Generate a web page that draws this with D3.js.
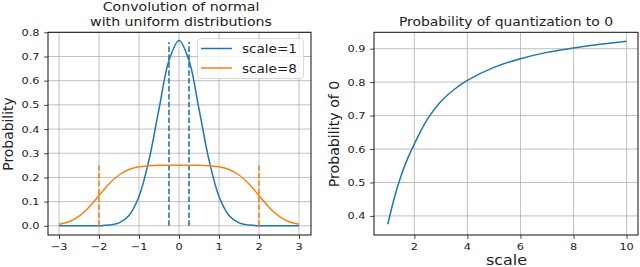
<!DOCTYPE html>
<html>
<head>
<meta charset="utf-8">
<script src="https://cdn.jsdelivr.net/npm/d3@7"></script>
<style>
  body { margin: 0; background: #fff; }
  svg { font-family: "DejaVu Sans", sans-serif; }
</style>
</head>
<body>
<svg id="chart" width="640" height="267"></svg>
<script>
// left panel: convolution curves
const convX = [-3, -2.75, -2.5, -2.25, -2, -1.75, -1.5, -1.25, -1, -0.75, -0.5, -0.25, 0,
               0.25, 0.5, 0.75, 1, 1.25, 1.5, 1.75, 2, 2.25, 2.5, 2.75, 3];
const scale1 = [0, 0, 0, 0.0001, 0.0005, 0.003, 0.012, 0.043, 0.121, 0.272, 0.483, 0.683, 0.766,
                0.683, 0.483, 0.272, 0.121, 0.043, 0.012, 0.003, 0.0005, 0.0001, 0, 0, 0];
const scale8 = [0.006, 0.017, 0.040, 0.077, 0.125, 0.173, 0.210, 0.233, 0.244, 0.248, 0.250, 0.250, 0.250,
                0.250, 0.250, 0.248, 0.244, 0.233, 0.210, 0.173, 0.125, 0.077, 0.040, 0.017, 0.006];
const bounds1 = [-0.25, 0.25], boundTop1 = 0.76;
const bounds8 = [-2, 2], boundTop8 = 0.25;
const leftXTicks = [-3, -2, -1, 0, 1, 2, 3];
const leftYTicks = [0, 0.1, 0.2, 0.3, 0.4, 0.5, 0.6, 0.7, 0.8];

// right panel: probability of quantization to 0
const scales = [1, 1.25, 1.5, 1.75, 2, 2.25, 2.5, 3, 3.5, 4, 5, 6, 7, 8, 9, 10];
const probZero = [0.375, 0.455, 0.52, 0.572, 0.615, 0.655, 0.69, 0.742, 0.778, 0.805, 0.844, 0.87, 0.889, 0.902, 0.913, 0.922];
const rightXTicks = [2, 4, 6, 8, 10];
const rightYTicks = [0.4, 0.5, 0.6, 0.7, 0.8, 0.9];

const blue = "#1f77b4", orange = "#ff7f0e";
const SX = 1.18; // text in the reference is a bit wider than tall
const svg = d3.select("#chart");
const fmtMinus = d => d3.format("d")(d).replace("-", "\u2212");

function txt(x, y, s, size, anchor, rot) {
  const tr = rot ? `translate(${x},${y}) rotate(${rot})` : `translate(${x},${y}) scale(${SX},1)`;
  return svg.append("text").attr("transform", tr)
    .attr("text-anchor", anchor || "middle").attr("font-size", size)
    .attr("fill", "#222").text(s);
}

function panel(box, xDom, yDom, xTicks, yTicks, xFmt, yFmt) {
  const x = d3.scaleLinear().domain(xDom).range([box.x0, box.x1]);
  const y = d3.scaleLinear().domain(yDom).range([box.y1, box.y0]);
  const g = svg.append("g");
  g.selectAll(".gx").data(xTicks).join("line")
    .attr("x1", d => x(d)).attr("x2", d => x(d))
    .attr("y1", box.y0).attr("y2", box.y1)
    .attr("stroke", "#b0b0b0").attr("stroke-width", 0.8);
  g.selectAll(".gy").data(yTicks).join("line")
    .attr("y1", d => y(d)).attr("y2", d => y(d))
    .attr("x1", box.x0).attr("x2", box.x1)
    .attr("stroke", "#b0b0b0").attr("stroke-width", 0.8);
  const ax = g.append("g").attr("transform", `translate(0,${box.y1})`)
    .call(d3.axisBottom(x).tickValues(xTicks).tickSize(4));
  const ay = g.append("g").attr("transform", `translate(${box.x0},0)`)
    .call(d3.axisLeft(y).tickValues(yTicks).tickSize(4));
  [ax, ay].forEach(a => {
    a.select(".domain").remove();
    a.selectAll("text").remove();
    a.selectAll("line").attr("stroke", "#222").attr("stroke-width", 0.8);
  });
  // tick labels, stretched like the reference
  xTicks.forEach(t => txt(x(t), box.y1 + 14.5, xFmt(t), 9.6, "middle"));
  yTicks.forEach(t => txt(box.x0 - 8.5, y(t) + 3.5, yFmt(t), 9.6, "end"));
  const plot = svg.append("g");
  svg.append("rect").attr("x", box.x0).attr("y", box.y0)
    .attr("width", box.x1 - box.x0).attr("height", box.y1 - box.y0)
    .attr("fill", "none").attr("stroke", "#111").attr("stroke-width", 1);
  return {x, y, plot};
}

// ----- left -----
const L = panel({x0: 48, x1: 311, y0: 32.3, y1: 235}, [-3.275, 3.3], [-0.038, 0.8],
  leftXTicks, leftYTicks, fmtMinus, d3.format(".1f"));

const lineL = d3.line().x(d => L.x(d[0])).y(d => L.y(d[1])).curve(d3.curveCatmullRom);
[[scale1, blue, bounds1, boundTop1], [scale8, orange, bounds8, boundTop8]].forEach(([vals, c, b, top]) => {
  L.plot.append("path").datum(convX.map((v, i) => [v, vals[i]]))
    .attr("d", lineL).attr("fill", "none").attr("stroke", c).attr("stroke-width", 1.5);
  L.plot.selectAll(null).data(b).join("line")
    .attr("x1", d => L.x(d)).attr("x2", d => L.x(d))
    .attr("y1", L.y(0)).attr("y2", L.y(top))
    .attr("stroke", c).attr("stroke-width", 1.6).attr("stroke-dasharray", "5.5,2.4");
});

txt(181, 10.5, "Convolution of normal", 12);
txt(181, 26, "with uniform distributions", 12);
txt(13, 134, "Probability", 13.9, "middle", -90);

// legend
const lg = svg.append("g");
lg.append("rect").attr("x", 197.5).attr("y", 38.5).attr("width", 106).attr("height", 40)
  .attr("rx", 3).attr("fill", "#fff").attr("fill-opacity", 0.8)
  .attr("stroke", "#d0d0d0").attr("stroke-width", 0.8);
[["scale=1", blue], ["scale=8", orange]].forEach(([t, c], i) => {
  const yy = 48.5 + i * 19.5;
  lg.append("line").attr("x1", 201).attr("x2", 232).attr("y1", yy).attr("y2", yy)
    .attr("stroke", c).attr("stroke-width", 1.5);
  txt(242, yy + 4.5, t, 11.5, "start");
});

// ----- right -----
const R = panel({x0: 374, x1: 638, y0: 32.3, y1: 235}, [0.48, 10.43], [0.343, 0.949],
  rightXTicks, rightYTicks, d3.format("d"), d3.format(".1f"));
R.plot.append("path").datum(scales.map((v, i) => [v, probZero[i]]))
  .attr("d", d3.line().x(d => R.x(d[0])).y(d => R.y(d[1])).curve(d3.curveCatmullRom))
  .attr("fill", "none").attr("stroke", blue).attr("stroke-width", 1.5);

txt(506, 26, "Probability of quantization to 0", 11.8);
txt(506.5, 265, "scale", 13.5);
txt(338.5, 134, "Probability of 0", 14.2, "middle", -90);
</script>
</body>
</html>
